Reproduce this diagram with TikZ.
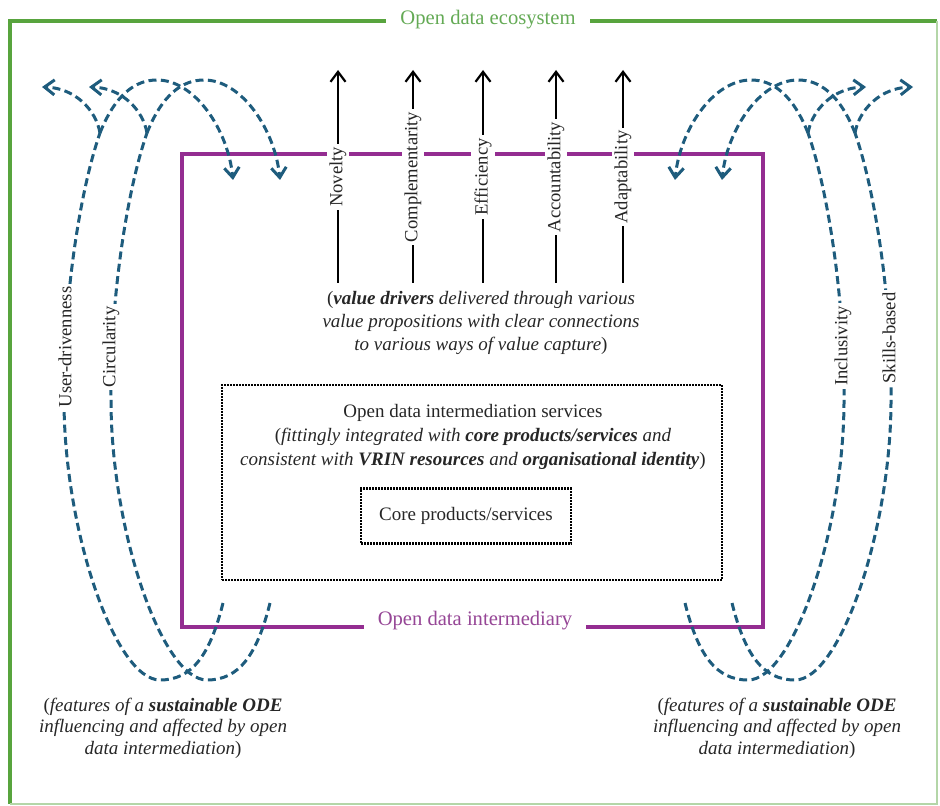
\documentclass[tikz,border=0pt]{standalone}
\usepackage{fontspec}
\setmainfont{Liberation Serif}
\usetikzlibrary{arrows.meta}

\definecolor{ecogreen}{RGB}{88,164,62}
\definecolor{ecotext}{RGB}{100,170,85}
\definecolor{odipurple}{RGB}{148,45,145}
\definecolor{oditext}{RGB}{150,70,150}
\definecolor{loopblue}{RGB}{30,92,125}

\begin{document}
\begin{tikzpicture}
  [%%%%%%%%%%%%%%%%%%%%%%%%%%%%%%
  x=0.5pt, y=-0.5pt,
  eco/.style={draw=ecogreen, line width=2pt},
  odi/.style={draw=odipurple, line width=1.8pt},
  boxtitle/.style={fill=white, inner xsep=7pt, inner ysep=1pt, font=\fontsize{10.3}{12}\selectfont},
  drv/.style={draw=black, line width=1.1pt, -{Straight Barb[length=5pt,width=7.5pt]}},
  drvlab/.style={fill=white, rotate=90, inner sep=1.5pt, text=black!85, font=\fontsize{9.3}{11}\selectfont},
  ode/.style={draw=loopblue, line width=1.5pt, dash pattern=on 4pt off 2.2pt},
  odetip/.style={-{Straight Barb[length=5pt,width=7.5pt]}},
  dotbox/.style={draw=black, line width=1.3pt, dash pattern=on 0.9pt off 0.6pt},
  txt/.style={align=center, inner sep=0pt, text=black!85, font=\fontsize{9.5}{12}\selectfont},
  itxt/.style={txt, font=\fontsize{9.5}{11.7}\selectfont\itshape},
  btxt/.style={txt, font=\fontsize{9.5}{10.8}\selectfont\itshape},
  ]%%%%%%%%%%%%%%%%%%%%%%%%%%%%%%
  \useasboundingbox (0,0) rectangle (940,806);
  % Ecosystem frame
  \draw[eco] (10,804) |- (937,21);
  \draw[eco, line width=0.8pt, draw=ecogreen!45] (937,21) |- (10,804);
  \node[boxtitle, text=ecotext] (ecot) at (488,20) {Open data ecosystem};
  % Intermediary frame
  \draw[odi] (182,154) rectangle (763,627);
  \node[boxtitle, text=oditext] (odit) at (475,621) {Open data intermediary};

  % Feature loops (left side, mirrored on the right)
  \foreach \sx/\fx in {0/1, 955/-1}{
    \foreach \d in {0,47}{
      \begin{scope}[shift={(\sx,0)}, xscale=\fx, shift={(\d,0)}]
        \coordinate (ls) at (223,603);
        \coordinate (lm) at (160,680);
        \coordinate (lw) at (64,400);
        \coordinate (lf) at (100,133);
        \coordinate (la) at (42,87);
        \coordinate (lh) at (157,80);
        \coordinate (le) at (233,180);
        \draw[ode] (ls) .. controls (210,655) and (192,680) .. (lm)
          .. controls (115,680) and (64,530) .. (lw)
          .. controls (63,300) and (80,190) .. (lf);
        \draw[ode, odetip] (lf) .. controls (96,110) and (75,88) .. (la);
        \draw[ode, odetip] (lf) .. controls (115,95) and (135,80) .. (lh)
          .. controls (195,80) and (228,130) .. (le);
      \end{scope}
    }
  }
  \node[drvlab] (udl) at (65,347) {User-drivenness};
  \node[drvlab] (cil) at (111,347) {Circularity};
  \node[drvlab] (inl) at (843,346) {Inclusivity};
  \node[drvlab] (skl) at (889,338) {Skills-based};

  % Value drivers
  \foreach \x/\lab [count=\i] in {338/Novelty, 413/Complementarity, 483/Efficiency, 556/Accountability, 623/Adaptability}{
    \coordinate (vb\i) at (\x,283);
    \coordinate (vt\i) at (\x,70);
    \draw[drv] (vb\i) -- (vt\i);
    \node[drvlab] (vl\i) at (\x,177) {\lab};
  }
  \node[itxt] (vd) at (481,323) {\textup{(}\textbf{value drivers} delivered through various\\
    value propositions with clear connections\\
    to various ways of value capture\textup{)}};

  % Services
  \node[dotbox, minimum width=250pt, minimum height=97.5pt] (srvbox) at (472,482.5) {};
  \node[txt] (srv) at (473,437) {Open data intermediation services\\
    (\textit{fittingly integrated with \textbf{core products/services} and}\\
    \textit{consistent with \textbf{VRIN resources} and \textbf{organisational identity}})};
  \node[txt, dotbox, minimum width=105pt, minimum height=27.5pt] (core) at (466,516) {Core products/services};

  % Text
  \node[btxt] (odel) at (163,728) {\textup{(}features of a \textbf{sustainable ODE}\\
    influencing and affected by open\\
    data intermediation\textup{)}};
  \node[btxt] (oder) at (777,728) {\textup{(}features of a \textbf{sustainable ODE}\\
    influencing and affected by open\\
    data intermediation\textup{)}};
\end{tikzpicture}
\end{document}
